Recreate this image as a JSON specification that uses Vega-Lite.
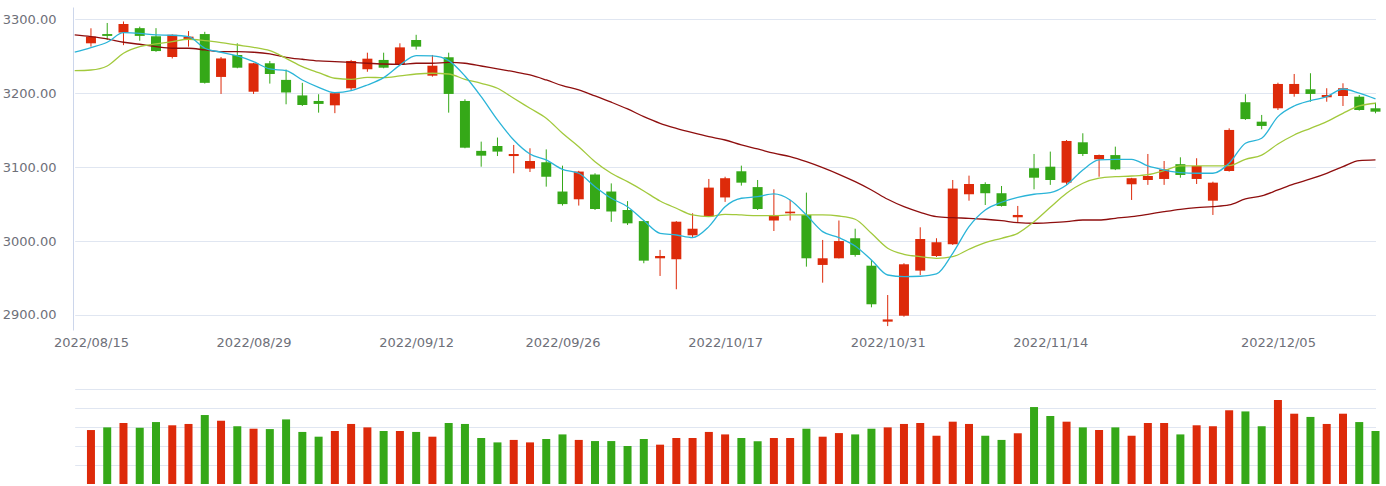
{
  "$schema": "https://vega.github.io/schema/vega-lite/v6.json",
  "padding": {"left": 2, "top": 7, "right": 0, "bottom": 0},
  "background": "#ffffff",
  "bounds": "flush",
  "spacing": 40,
  "config": {"view": {"stroke": null}, "font": "DejaVu Sans"},
  "resolve": {"scale": {"x": "independent"}},
  "datasets": {
    "kline": [
      {"date":"2022/08/15","open":3267.5,"close":3276.5,"high":3287.8,"low":3263,"volume":2.84},
      {"date":"2022/08/16","open":3280,"close":3277.5,"high":3295,"low":3272,"volume":2.98},
      {"date":"2022/08/17","open":3282,"close":3293.6,"high":3297,"low":3265,"volume":3.21},
      {"date":"2022/08/18","open":3288,"close":3277.5,"high":3290,"low":3271,"volume":2.96},
      {"date":"2022/08/19","open":3277,"close":3257,"high":3288,"low":3256,"volume":3.26},
      {"date":"2022/08/22","open":3249,"close":3279,"high":3279.5,"low":3247,"volume":3.09},
      {"date":"2022/08/23","open":3273,"close":3276.5,"high":3284,"low":3263,"volume":3.16},
      {"date":"2022/08/24","open":3280,"close":3214,"high":3283,"low":3213,"volume":3.63},
      {"date":"2022/08/25","open":3222,"close":3247,"high":3249,"low":3199,"volume":3.33},
      {"date":"2022/08/26","open":3251.7,"close":3234.5,"high":3267.5,"low":3233.7,"volume":3.04},
      {"date":"2022/08/29","open":3202,"close":3240.5,"high":3241,"low":3199,"volume":2.91},
      {"date":"2022/08/30","open":3240.5,"close":3226,"high":3243.6,"low":3213,"volume":2.89},
      {"date":"2022/08/31","open":3218,"close":3201,"high":3232,"low":3185,"volume":3.40},
      {"date":"2022/09/01","open":3197,"close":3184,"high":3214,"low":3182.7,"volume":2.74},
      {"date":"2022/09/02","open":3189.5,"close":3185.5,"high":3198.6,"low":3173.7,"volume":2.49},
      {"date":"2022/09/05","open":3183.6,"close":3200,"high":3200.5,"low":3173,"volume":2.79},
      {"date":"2022/09/06","open":3206.6,"close":3243.6,"high":3245,"low":3204,"volume":3.16},
      {"date":"2022/09/07","open":3232.4,"close":3246.7,"high":3254.8,"low":3229,"volume":2.98},
      {"date":"2022/09/08","open":3245,"close":3234.5,"high":3254.8,"low":3233.7,"volume":2.79},
      {"date":"2022/09/09","open":3239.5,"close":3262,"high":3267.5,"low":3239,"volume":2.79},
      {"date":"2022/09/13","open":3272,"close":3263,"high":3279,"low":3259,"volume":2.74},
      {"date":"2022/09/14","open":3223.7,"close":3237.2,"high":3251.7,"low":3222.4,"volume":2.49},
      {"date":"2022/09/15","open":3248.6,"close":3199,"high":3254.8,"low":3173.7,"volume":3.21},
      {"date":"2022/09/16","open":3189.5,"close":3126.3,"high":3191.8,"low":3125.5,"volume":3.16},
      {"date":"2022/09/19","open":3122,"close":3115.5,"high":3134.5,"low":3100.6,"volume":2.42},
      {"date":"2022/09/20","open":3128.6,"close":3121,"high":3140,"low":3115,"volume":2.19},
      {"date":"2022/09/21","open":3115,"close":3117.8,"high":3130,"low":3091.7,"volume":2.32},
      {"date":"2022/09/22","open":3098,"close":3108.3,"high":3125.5,"low":3093.4,"volume":2.19},
      {"date":"2022/09/23","open":3106.6,"close":3087,"high":3124,"low":3073.6,"volume":2.37},
      {"date":"2022/09/26","open":3067,"close":3050,"high":3102,"low":3048,"volume":2.61},
      {"date":"2022/09/27","open":3056.5,"close":3094,"high":3095,"low":3048,"volume":2.32},
      {"date":"2022/09/28","open":3090,"close":3043.4,"high":3091.7,"low":3042,"volume":2.26},
      {"date":"2022/09/29","open":3067,"close":3040,"high":3078,"low":3026,"volume":2.26},
      {"date":"2022/09/30","open":3042,"close":3024,"high":3054,"low":3021.8,"volume":2.00},
      {"date":"2022/10/10","open":3027,"close":2973.5,"high":3028.5,"low":2970,"volume":2.37},
      {"date":"2022/10/11","open":2976.7,"close":2979.8,"high":2988,"low":2952.8,"volume":2.07},
      {"date":"2022/10/12","open":2975.4,"close":3026.2,"high":3027,"low":2934.8,"volume":2.42},
      {"date":"2022/10/13","open":3007.8,"close":3016.7,"high":3037.6,"low":3004.6,"volume":2.42},
      {"date":"2022/10/14","open":3033.5,"close":3072.3,"high":3084,"low":3032.6,"volume":2.74},
      {"date":"2022/10/17","open":3059,"close":3085,"high":3087,"low":3053,"volume":2.61},
      {"date":"2022/10/18","open":3094.4,"close":3079,"high":3102,"low":3075,"volume":2.42},
      {"date":"2022/10/19","open":3073,"close":3043.4,"high":3082.6,"low":3042,"volume":2.25},
      {"date":"2022/10/20","open":3027.8,"close":3035.3,"high":3070,"low":3013.6,"volume":2.42},
      {"date":"2022/10/21","open":3037.6,"close":3039.8,"high":3055.6,"low":3027.8,"volume":2.42},
      {"date":"2022/10/24","open":3035.3,"close":2976.7,"high":3065.5,"low":2965.4,"volume":2.91},
      {"date":"2022/10/25","open":2967.7,"close":2976.7,"high":3001.5,"low":2943.7,"volume":2.49},
      {"date":"2022/10/26","open":2976.7,"close":3000,"high":3027.8,"low":2976.5,"volume":2.68},
      {"date":"2022/10/27","open":3003.8,"close":2981.2,"high":3016.7,"low":2978.9,"volume":2.61},
      {"date":"2022/10/28","open":2966.7,"close":2914.5,"high":2974.4,"low":2910.4,"volume":2.91},
      {"date":"2022/10/31","open":2891,"close":2894,"high":2927,"low":2885,"volume":2.98},
      {"date":"2022/11/01","open":2899,"close":2968.6,"high":2970,"low":2897.7,"volume":3.16},
      {"date":"2022/11/02","open":2960,"close":3002.8,"high":3018.6,"low":2954,"volume":3.21},
      {"date":"2022/11/03","open":2979.8,"close":2998.4,"high":3003.8,"low":2978.5,"volume":2.54},
      {"date":"2022/11/04","open":2995.7,"close":3071,"high":3082.6,"low":2994.7,"volume":3.28},
      {"date":"2022/11/07","open":3063.3,"close":3077.2,"high":3088.5,"low":3054.6,"volume":3.16},
      {"date":"2022/11/08","open":3077.2,"close":3064.7,"high":3079.5,"low":3048.8,"volume":2.54},
      {"date":"2022/11/09","open":3064.7,"close":3047.5,"high":3074.5,"low":3046.6,"volume":2.32},
      {"date":"2022/11/10","open":3032.2,"close":3035.3,"high":3047.5,"low":3025,"volume":2.67},
      {"date":"2022/11/11","open":3098.5,"close":3085.7,"high":3117.8,"low":3070,"volume":4.05},
      {"date":"2022/11/14","open":3100.6,"close":3082.6,"high":3121,"low":3076,"volume":3.58},
      {"date":"2022/11/15","open":3079,"close":3135.4,"high":3136.7,"low":3076,"volume":3.28},
      {"date":"2022/11/16","open":3133.6,"close":3117.8,"high":3145.8,"low":3115,"volume":2.98},
      {"date":"2022/11/17","open":3110.6,"close":3116.3,"high":3117,"low":3087,"volume":2.84},
      {"date":"2022/11/18","open":3116.3,"close":3097,"high":3127.7,"low":3096,"volume":2.98},
      {"date":"2022/11/21","open":3076.8,"close":3085,"high":3085.5,"low":3055.6,"volume":2.54},
      {"date":"2022/11/22","open":3082.6,"close":3088,"high":3117.8,"low":3076,"volume":3.21},
      {"date":"2022/11/23","open":3084,"close":3097,"high":3108.3,"low":3076,"volume":3.21},
      {"date":"2022/11/24","open":3104,"close":3089.4,"high":3113.3,"low":3085.7,"volume":2.61},
      {"date":"2022/11/25","open":3084,"close":3101.6,"high":3112,"low":3077.2,"volume":3.09},
      {"date":"2022/11/28","open":3054.6,"close":3079,"high":3080.3,"low":3035.3,"volume":3.04},
      {"date":"2022/11/29","open":3094.8,"close":3150.3,"high":3152.5,"low":3093.9,"volume":3.88},
      {"date":"2022/12/01","open":3187.8,"close":3165,"high":3198.6,"low":3163.8,"volume":3.82},
      {"date":"2022/12/02","open":3161.5,"close":3155.7,"high":3170.6,"low":3151.2,"volume":3.04},
      {"date":"2022/12/05","open":3179.6,"close":3212.5,"high":3214.2,"low":3177.3,"volume":4.42},
      {"date":"2022/12/06","open":3199,"close":3212.5,"high":3226,"low":3195.3,"volume":3.70},
      {"date":"2022/12/07","open":3205.3,"close":3199,"high":3227,"low":3188.5,"volume":3.53},
      {"date":"2022/12/08","open":3194.5,"close":3197.6,"high":3206.7,"low":3188.5,"volume":3.16},
      {"date":"2022/12/09","open":3196.2,"close":3206.7,"high":3213.4,"low":3182.7,"volume":3.70},
      {"date":"2022/12/12","open":3195.3,"close":3177.3,"high":3197.6,"low":3176.4,"volume":3.26},
      {"date":"2022/12/13","open":3179.6,"close":3175,"high":3187.2,"low":3172.8,"volume":2.79}
    ],
    "ma": [
      {"date":"2022/08/12","ma5":3255.4,"ma10":3230.5,"ma20":3278.8},
      {"date":"2022/08/15","ma5":3261.6,"ma10":3231.4,"ma20":3276.5},
      {"date":"2022/08/16","ma5":3268.9,"ma10":3236.8,"ma20":3273.4},
      {"date":"2022/08/17","ma5":3281.9,"ma10":3254,"ma20":3268.9},
      {"date":"2022/08/18","ma5":3281,"ma10":3263,"ma20":3266.2},
      {"date":"2022/08/19","ma5":3278.8,"ma10":3266.6,"ma20":3263},
      {"date":"2022/08/22","ma5":3278.4,"ma10":3269.7,"ma20":3260.8},
      {"date":"2022/08/23","ma5":3276.5,"ma10":3273,"ma20":3260.8},
      {"date":"2022/08/24","ma5":3260.8,"ma10":3271.1,"ma20":3258.5},
      {"date":"2022/08/25","ma5":3255.4,"ma10":3268.4,"ma20":3256.2},
      {"date":"2022/08/26","ma5":3250.4,"ma10":3265.2,"ma20":3256.2},
      {"date":"2022/08/29","ma5":3242.7,"ma10":3262.1,"ma20":3255.4},
      {"date":"2022/08/30","ma5":3232.8,"ma10":3257.5,"ma20":3253.1},
      {"date":"2022/08/31","ma5":3230.5,"ma10":3247.2,"ma20":3248.6},
      {"date":"2022/09/01","ma5":3217.9,"ma10":3235.9,"ma20":3245.9},
      {"date":"2022/09/02","ma5":3208,"ma10":3227.8,"ma20":3243.6},
      {"date":"2022/09/05","ma5":3200.7,"ma10":3220.2,"ma20":3242.7},
      {"date":"2022/09/06","ma5":3203.4,"ma10":3218.8,"ma20":3241.8},
      {"date":"2022/09/07","ma5":3211.1,"ma10":3221.5,"ma20":3240.5},
      {"date":"2022/09/08","ma5":3221,"ma10":3221,"ma20":3239.5},
      {"date":"2022/09/09","ma5":3238,"ma10":3223.3,"ma20":3239.1},
      {"date":"2022/09/13","ma5":3250.8,"ma10":3226,"ma20":3240.5},
      {"date":"2022/09/14","ma5":3250.4,"ma10":3227,"ma20":3240.5},
      {"date":"2022/09/15","ma5":3244,"ma10":3226,"ma20":3241.8},
      {"date":"2022/09/16","ma5":3223.3,"ma10":3218.8,"ma20":3240.5},
      {"date":"2022/09/19","ma5":3195.3,"ma10":3213.4,"ma20":3236.8},
      {"date":"2022/09/20","ma5":3163.8,"ma10":3206.7,"ma20":3232.8},
      {"date":"2022/09/21","ma5":3136.7,"ma10":3193.1,"ma20":3229.1},
      {"date":"2022/09/22","ma5":3117.8,"ma10":3179.6,"ma20":3224.7},
      {"date":"2022/09/23","ma5":3109.7,"ma10":3166.1,"ma20":3217.9},
      {"date":"2022/09/26","ma5":3097.1,"ma10":3145.8,"ma20":3210.2},
      {"date":"2022/09/27","ma5":3091.7,"ma10":3127.7,"ma20":3204.4},
      {"date":"2022/09/28","ma5":3073.6,"ma10":3107.4,"ma20":3196.3},
      {"date":"2022/09/29","ma5":3057.9,"ma10":3091.7,"ma20":3187.8},
      {"date":"2022/09/30","ma5":3046.5,"ma10":3080.3,"ma20":3178.7},
      {"date":"2022/10/10","ma5":3027.8,"ma10":3067.8,"ma20":3168.3},
      {"date":"2022/10/11","ma5":3010.5,"ma10":3054.2,"ma20":3159.3},
      {"date":"2022/10/12","ma5":3008.2,"ma10":3044.4,"ma20":3152.5},
      {"date":"2022/10/13","ma5":3004.6,"ma10":3035.3,"ma20":3146.6},
      {"date":"2022/10/14","ma5":3019.5,"ma10":3033,"ma20":3141.2},
      {"date":"2022/10/17","ma5":3046.5,"ma10":3036.2,"ma20":3136.7},
      {"date":"2022/10/18","ma5":3057.9,"ma10":3035.3,"ma20":3130},
      {"date":"2022/10/19","ma5":3060,"ma10":3034.3,"ma20":3124.6},
      {"date":"2022/10/20","ma5":3063.7,"ma10":3034.3,"ma20":3118.8},
      {"date":"2022/10/21","ma5":3055.6,"ma10":3035.3,"ma20":3114.2},
      {"date":"2022/10/24","ma5":3035.3,"ma10":3035.3,"ma20":3107.4},
      {"date":"2022/10/25","ma5":3012.8,"ma10":3035.3,"ma20":3099.3},
      {"date":"2022/10/26","ma5":3004.6,"ma10":3033.9,"ma20":3090.3},
      {"date":"2022/10/27","ma5":2993.4,"ma10":3029.5,"ma20":3080.3},
      {"date":"2022/10/28","ma5":2974.4,"ma10":3010.5,"ma20":3069.1},
      {"date":"2022/10/31","ma5":2954.1,"ma10":2990.3,"ma20":3056.5},
      {"date":"2022/11/01","ma5":2951.9,"ma10":2982.1,"ma20":3046.5},
      {"date":"2022/11/02","ma5":2952.4,"ma10":2978.9,"ma20":3038.9},
      {"date":"2022/11/03","ma5":2955.5,"ma10":2976.7,"ma20":3033},
      {"date":"2022/11/04","ma5":2983.5,"ma10":2978.9,"ma20":3031.6},
      {"date":"2022/11/07","ma5":3019.5,"ma10":2988.9,"ma20":3030.8},
      {"date":"2022/11/08","ma5":3042,"ma10":2997.8,"ma20":3029.5},
      {"date":"2022/11/09","ma5":3052.5,"ma10":3003.8,"ma20":3027.6},
      {"date":"2022/11/10","ma5":3059.2,"ma10":3010.5,"ma20":3024.9},
      {"date":"2022/11/11","ma5":3063.3,"ma10":3026.2,"ma20":3024.1},
      {"date":"2022/11/14","ma5":3065.5,"ma10":3045.7,"ma20":3024.9},
      {"date":"2022/11/15","ma5":3075.9,"ma10":3064.7,"ma20":3026.2},
      {"date":"2022/11/16","ma5":3096.2,"ma10":3078.2,"ma20":3028.5},
      {"date":"2022/11/17","ma5":3109.7,"ma10":3085,"ma20":3028.5},
      {"date":"2022/11/18","ma5":3110.6,"ma10":3087.1,"ma20":3030.8},
      {"date":"2022/11/21","ma5":3110.6,"ma10":3088,"ma20":3033},
      {"date":"2022/11/22","ma5":3101.6,"ma10":3089.8,"ma20":3036.2},
      {"date":"2022/11/23","ma5":3096.2,"ma10":3095.2,"ma20":3039.8},
      {"date":"2022/11/24","ma5":3092.5,"ma10":3101.6,"ma20":3043},
      {"date":"2022/11/25","ma5":3091.7,"ma10":3101.6,"ma20":3045.2},
      {"date":"2022/11/28","ma5":3091.7,"ma10":3101.6,"ma20":3046.5},
      {"date":"2022/11/29","ma5":3105.2,"ma10":3102,"ma20":3048.8},
      {"date":"2022/12/01","ma5":3132.3,"ma10":3110.6,"ma20":3056.9},
      {"date":"2022/12/02","ma5":3139,"ma10":3116.3,"ma20":3061},
      {"date":"2022/12/05","ma5":3168.3,"ma10":3131.3,"ma20":3069.1},
      {"date":"2022/12/06","ma5":3182.7,"ma10":3143.5,"ma20":3077.2},
      {"date":"2022/12/07","ma5":3189.9,"ma10":3152.5,"ma20":3084},
      {"date":"2022/12/08","ma5":3195.3,"ma10":3161.5,"ma20":3091.7},
      {"date":"2022/12/09","ma5":3205.7,"ma10":3172.8,"ma20":3100.6},
      {"date":"2022/12/12","ma5":3200,"ma10":3182.7,"ma20":3108.8},
      {"date":"2022/12/13","ma5":3192.2,"ma10":3186.4,"ma20":3109.7}
    ]
  },
  "vconcat": [
    {
      "width": 1314,
      "height": 323,
      "layer": [
        {
          "data": {"name": "kline"},
          "mark": {"type": "rule", "strokeWidth": 1},
          "encoding": {
            "x": {
              "field": "date", "type": "ordinal",
              "scale": {"type": "point", "range": [1.7, 1302.5], "padding": 0, "domain": ["2022/08/12","2022/08/15","2022/08/16","2022/08/17","2022/08/18","2022/08/19","2022/08/22","2022/08/23","2022/08/24","2022/08/25","2022/08/26","2022/08/29","2022/08/30","2022/08/31","2022/09/01","2022/09/02","2022/09/05","2022/09/06","2022/09/07","2022/09/08","2022/09/09","2022/09/13","2022/09/14","2022/09/15","2022/09/16","2022/09/19","2022/09/20","2022/09/21","2022/09/22","2022/09/23","2022/09/26","2022/09/27","2022/09/28","2022/09/29","2022/09/30","2022/10/10","2022/10/11","2022/10/12","2022/10/13","2022/10/14","2022/10/17","2022/10/18","2022/10/19","2022/10/20","2022/10/21","2022/10/24","2022/10/25","2022/10/26","2022/10/27","2022/10/28","2022/10/31","2022/11/01","2022/11/02","2022/11/03","2022/11/04","2022/11/07","2022/11/08","2022/11/09","2022/11/10","2022/11/11","2022/11/14","2022/11/15","2022/11/16","2022/11/17","2022/11/18","2022/11/21","2022/11/22","2022/11/23","2022/11/24","2022/11/25","2022/11/28","2022/11/29","2022/12/01","2022/12/02","2022/12/05","2022/12/06","2022/12/07","2022/12/08","2022/12/09","2022/12/12","2022/12/13"]},
              "axis": {
                "values": ["2022/08/15","2022/08/29","2022/09/13","2022/09/26","2022/10/17","2022/10/31","2022/11/14","2022/12/05"],
                "labelExpr": "datum.value == '2022/09/13' ? '2022/09/12' : datum.value",
                "title": null, "domain": false, "ticks": false, "grid": false,
                "labelAngle": 0, "labelPadding": 6, "labelFontSize": 13, "labelColor": "#6E7079",
                "labelOverlap": false, "labelFont": "DejaVu Sans"
              }
            },
            "y": {
              "field": "low", "type": "quantitative",
              "scale": {"domain": [2879.7, 3316.6], "nice": false, "zero": false},
              "axis": {
                "values": [2900, 3000, 3100, 3200, 3300], "format": ".2f",
                "title": null, "grid": true, "gridColor": "#E0E6F1", "domain": true, "domainColor": "#CCD6EB",
                "ticks": false, "labelPadding": 17, "labelFontSize": 13, "labelColor": "#6E7079", "labelFont": "DejaVu Sans"
              }
            },
            "y2": {"field": "high"},
            "color": {"condition": {"test": "datum.close >= datum.open", "value": "#DD2A0A"}, "value": "#35A818"}
          }
        },
        {
          "data": {"name": "kline"},
          "mark": {"type": "bar", "size": 10},
          "encoding": {
            "x": {"field": "date", "type": "ordinal"},
            "y": {"field": "open", "type": "quantitative"},
            "y2": {"field": "close"},
            "color": {"condition": {"test": "datum.close >= datum.open", "value": "#DD2A0A"}, "value": "#35A818"}
          }
        },
        {
          "data": {"name": "ma"},
          "mark": {"type": "line", "interpolate": "monotone", "strokeWidth": 1.3, "color": "#8E0E0E"},
          "encoding": {"x": {"field": "date", "type": "ordinal"}, "y": {"field": "ma20", "type": "quantitative"}}
        },
        {
          "data": {"name": "ma"},
          "mark": {"type": "line", "interpolate": "monotone", "strokeWidth": 1.3, "color": "#A2C93C"},
          "encoding": {"x": {"field": "date", "type": "ordinal"}, "y": {"field": "ma10", "type": "quantitative"}}
        },
        {
          "data": {"name": "ma"},
          "mark": {"type": "line", "interpolate": "monotone", "strokeWidth": 1.3, "color": "#2AB4D8"},
          "encoding": {"x": {"field": "date", "type": "ordinal"}, "y": {"field": "ma5", "type": "quantitative"}}
        }
      ]
    },
    {
      "width": 1314,
      "height": 114,
      "data": {"name": "kline"},
      "mark": {"type": "bar", "size": 8},
      "encoding": {
        "x": {
          "field": "date", "type": "ordinal",
          "scale": {"type": "point", "range": [1.7, 1302.5], "padding": 0, "domain": ["2022/08/12","2022/08/15","2022/08/16","2022/08/17","2022/08/18","2022/08/19","2022/08/22","2022/08/23","2022/08/24","2022/08/25","2022/08/26","2022/08/29","2022/08/30","2022/08/31","2022/09/01","2022/09/02","2022/09/05","2022/09/06","2022/09/07","2022/09/08","2022/09/09","2022/09/13","2022/09/14","2022/09/15","2022/09/16","2022/09/19","2022/09/20","2022/09/21","2022/09/22","2022/09/23","2022/09/26","2022/09/27","2022/09/28","2022/09/29","2022/09/30","2022/10/10","2022/10/11","2022/10/12","2022/10/13","2022/10/14","2022/10/17","2022/10/18","2022/10/19","2022/10/20","2022/10/21","2022/10/24","2022/10/25","2022/10/26","2022/10/27","2022/10/28","2022/10/31","2022/11/01","2022/11/02","2022/11/03","2022/11/04","2022/11/07","2022/11/08","2022/11/09","2022/11/10","2022/11/11","2022/11/14","2022/11/15","2022/11/16","2022/11/17","2022/11/18","2022/11/21","2022/11/22","2022/11/23","2022/11/24","2022/11/25","2022/11/28","2022/11/29","2022/12/01","2022/12/02","2022/12/05","2022/12/06","2022/12/07","2022/12/08","2022/12/09","2022/12/12","2022/12/13"]},
          "axis": {"title": null, "labels": false, "ticks": false, "grid": false, "domain": true, "domainColor": "#CCD6EB"}
        },
        "y": {
          "field": "volume", "type": "quantitative",
          "scale": {"domain": [0, 6], "nice": false, "zero": true},
          "axis": {"values": [1, 2, 3, 4, 5], "title": null, "labels": false, "ticks": false, "domain": false, "grid": true, "gridColor": "#E0E6F1"}
        },
        "color": {"condition": {"test": "datum.close >= datum.open", "value": "#DD2A0A"}, "value": "#35A818"}
      }
    }
  ]
}
